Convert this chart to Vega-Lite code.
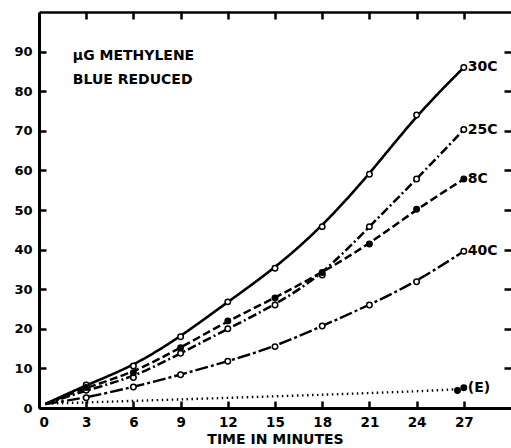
{
  "$schema": "https://vega.github.io/schema/vega-lite/v6.json",
  "autosize": "none",
  "width": 472,
  "height": 396,
  "padding": {"left": 39, "top": 12, "right": 0, "bottom": 40},
  "background": "white",
  "config": {
    "view": {"stroke": null},
    "font": "DejaVu Sans",
    "axis": {
      "grid": false,
      "domainColor": "black",
      "tickColor": "black",
      "labelColor": "black",
      "titleColor": "black",
      "labelFont": "DejaVu Sans",
      "titleFont": "DejaVu Sans",
      "labelFontWeight": "bold",
      "titleFontWeight": "bold",
      "labelFontSize": 13,
      "titleFontSize": 13,
      "domainWidth": 3,
      "tickWidth": 2.5,
      "tickSize": -7
    }
  },
  "datasets": {
    "curves": [
      {"s": "30C", "t": 0.4, "v": 1},
      {"s": "30C", "t": 3, "v": 5.8},
      {"s": "30C", "t": 6, "v": 10.6},
      {"s": "30C", "t": 9, "v": 18},
      {"s": "30C", "t": 12, "v": 26.8},
      {"s": "30C", "t": 15, "v": 35.3},
      {"s": "30C", "t": 18, "v": 45.8},
      {"s": "30C", "t": 21, "v": 59},
      {"s": "30C", "t": 24, "v": 74},
      {"s": "30C", "t": 27, "v": 86},
      {"s": "25C", "t": 0.4, "v": 1},
      {"s": "25C", "t": 3, "v": 4.5},
      {"s": "25C", "t": 6, "v": 7.7},
      {"s": "25C", "t": 9, "v": 13.8},
      {"s": "25C", "t": 12, "v": 20},
      {"s": "25C", "t": 15, "v": 26},
      {"s": "25C", "t": 18, "v": 33.6},
      {"s": "25C", "t": 21, "v": 45.8},
      {"s": "25C", "t": 24, "v": 57.8},
      {"s": "25C", "t": 27, "v": 70.3},
      {"s": "8C", "t": 0.4, "v": 1},
      {"s": "8C", "t": 3, "v": 5.2},
      {"s": "8C", "t": 6, "v": 8.9},
      {"s": "8C", "t": 9, "v": 15.2},
      {"s": "8C", "t": 12, "v": 22},
      {"s": "8C", "t": 15, "v": 27.8},
      {"s": "8C", "t": 18, "v": 34.2},
      {"s": "8C", "t": 21, "v": 41.4},
      {"s": "8C", "t": 24, "v": 50.2},
      {"s": "8C", "t": 27, "v": 57.8},
      {"s": "40C", "t": 0.4, "v": 1},
      {"s": "40C", "t": 3, "v": 2.6},
      {"s": "40C", "t": 6, "v": 5.3},
      {"s": "40C", "t": 9, "v": 8.4},
      {"s": "40C", "t": 12, "v": 11.8},
      {"s": "40C", "t": 15, "v": 15.5},
      {"s": "40C", "t": 18, "v": 20.7},
      {"s": "40C", "t": 21, "v": 26},
      {"s": "40C", "t": 24, "v": 31.9},
      {"s": "40C", "t": 27, "v": 39.6},
      {"s": "(E)", "t": 0.5, "v": 1.1},
      {"s": "(E)", "t": 26.6, "v": 4.4},
      {"s": "(E)", "t": 27, "v": 5.1}
    ]
  },
  "data": {"name": "curves"},
  "layer": [
    {
      "mark": {"type": "line", "interpolate": "basis", "color": "black", "strokeCap": "butt"},
      "encoding": {
        "x": {"field": "t", "type": "quantitative", "scale": {"domain": [0, 30], "nice": false, "zero": false},
              "axis": {"orient": "bottom", "values": [0, 3, 6, 9, 12, 15, 18, 21, 24, 27], "title": "TIME IN MINUTES", "labelPadding": 14, "labelFontSize": 13.5, "titleFontSize": 14, "titlePadding": 4}},
        "y": {"field": "v", "type": "quantitative", "scale": {"domain": [0, 100], "nice": false},
              "axis": {"orient": "left", "values": [0, 10, 20, 30, 40, 50, 60, 70, 80, 90], "title": null, "labelPadding": 14}},
        "detail": {"field": "s"},
        "strokeDash": {"field": "s", "type": "nominal", "legend": null,
                       "scale": {"domain": ["30C", "25C", "8C", "40C", "(E)"],
                                 "range": [[1, 0], [9, 3, 2, 3], [8, 3.5], [13, 3, 3, 3], [1.5, 3.5]]}},
        "strokeWidth": {"field": "s", "type": "nominal", "legend": null,
                        "scale": {"domain": ["30C", "25C", "8C", "40C", "(E)"], "range": [2.6, 2.4, 2.4, 2.6, 2]}}
      }
    },
    {
      "transform": [{"filter": "datum.t >= 3"}],
      "mark": {"type": "point", "shape": "circle", "stroke": "black", "strokeWidth": 1.5, "size": 30, "filled": false, "opacity": 1},
      "encoding": {
        "x": {"field": "t", "type": "quantitative",
              "axis": {"orient": "top", "values": [3, 6, 9, 12, 15, 18, 21, 24, 27], "labels": false, "title": null, "domainWidth": 2.5}},
        "y": {"field": "v", "type": "quantitative",
              "axis": {"orient": "right", "values": [10, 20, 30, 40, 50, 60, 70, 80, 90], "labels": false, "title": null, "domain": false}},
        "fill": {"field": "s", "type": "nominal", "legend": null,
                 "scale": {"domain": ["30C", "25C", "8C", "40C", "(E)"], "range": ["white", "white", "black", "white", "black"]}}
      }
    },
    {
      "transform": [{"filter": "datum.t == 27"}],
      "mark": {"type": "text", "align": "left", "baseline": "middle", "dx": 4, "font": "DejaVu Sans", "fontWeight": "bold", "fontSize": 14, "color": "black"},
      "encoding": {
        "x": {"field": "t", "type": "quantitative", "axis": null},
        "y": {"field": "v", "type": "quantitative", "axis": null},
        "text": {"field": "s"}
      }
    },
    {
      "data": {"values": [{}]},
      "mark": {"type": "text", "align": "left", "baseline": "middle", "font": "DejaVu Sans", "fontWeight": "bold", "fontSize": 14, "lineHeight": 24, "color": "black"},
      "encoding": {
        "x": {"datum": 2.15, "type": "quantitative", "axis": null},
        "y": {"datum": 89, "type": "quantitative", "axis": null},
        "text": {"value": ["µG  METHYLENE", "BLUE  REDUCED"]}
      }
    }
  ],
  "resolve": {"axis": {"x": "independent", "y": "independent"}}
}
